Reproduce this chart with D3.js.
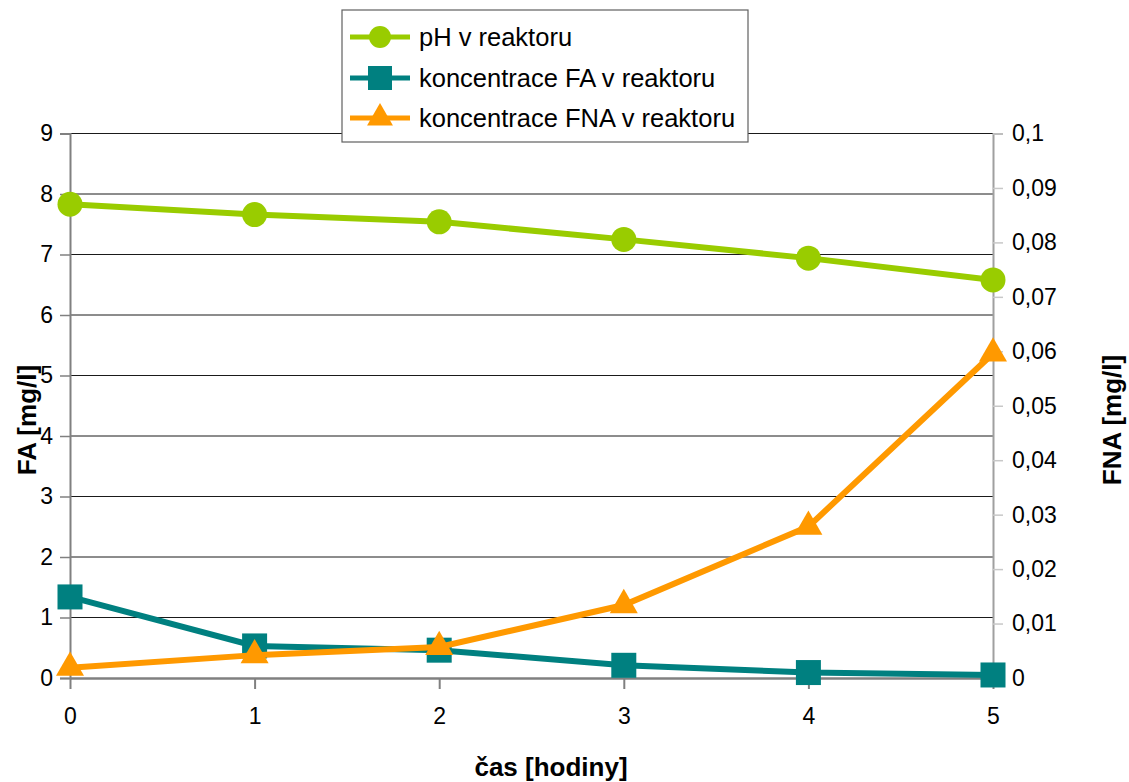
<!DOCTYPE html>
<html>
<head>
<meta charset="utf-8">
<script src="https://cdn.jsdelivr.net/npm/d3@7"></script>
<style>
  body { margin: 0; background: #fff; }
  svg text { font-family: "Liberation Sans", Arial, sans-serif; fill: #000; }
</style>
</head>
<body>
<svg id="chart" width="1129" height="782"></svg>
<script>
// Time in hours
const hours = [0, 1, 2, 3, 4, 5];
// pH in reactor (plotted against left axis)
const phValues = [7.83, 7.66, 7.54, 7.25, 6.94, 6.58];
// Free ammonia concentration, mg/l (left axis)
const faValues = [1.34, 0.53, 0.46, 0.21, 0.09, 0.05];
// Free nitrous acid concentration, mg/l (right axis)
const fnaValues = [0.0019, 0.0042, 0.0057, 0.0134, 0.0278, 0.0596];

const leftTicks = [0, 1, 2, 3, 4, 5, 6, 7, 8, 9];
const rightTicks = [0, 0.01, 0.02, 0.03, 0.04, 0.05, 0.06, 0.07, 0.08, 0.09, 0.1];

const seriesNames = ["pH v reaktoru", "koncentrace FA v reaktoru", "koncentrace FNA v reaktoru"];
const seriesColors = ["#99cc00", "#008080", "#ff9900"];

(function () {
const svg = d3.select("#chart");
const plotLeft = 70, plotRight = 993, plotTop = 133.5, plotBottom = 678;

const x = d3.scaleLinear().domain([0, 5]).range([plotLeft, plotRight]);
const yL = d3.scaleLinear().domain([0, 9]).range([plotBottom, plotTop]);
const yR = d3.scaleLinear().domain([0, 0.1]).range([plotBottom, plotTop]);

// horizontal gridlines
svg.append("g").selectAll("line").data(leftTicks.filter(d => d > 0)).join("line")
  .attr("x1", plotLeft).attr("x2", plotRight)
  .attr("y1", d => yL(d)).attr("y2", d => yL(d))
  .attr("stroke", "#1a1a1a").attr("stroke-width", 1);

// left axis
const gL = svg.append("g").attr("transform", `translate(${plotLeft},0)`)
  .call(d3.axisLeft(yL).tickValues(leftTicks).tickSize(10).tickPadding(7));
gL.select(".domain").attr("stroke", "#808080").attr("stroke-width", 2);
gL.selectAll(".tick line").attr("stroke", "#808080").attr("stroke-width", 1.5);
gL.selectAll(".tick text").style("font-size", "23px");

// right axis
const gR = svg.append("g").attr("transform", `translate(${plotRight},0)`)
  .call(d3.axisRight(yR).tickValues(rightTicks).tickSize(10).tickPadding(9)
    .tickFormat(d => d3.format("~g")(d).replace(".", ",")));
gR.select(".domain").attr("stroke", "#a0a0a0").attr("stroke-width", 2);
gR.selectAll(".tick line").attr("stroke", "#c8c8c8").attr("stroke-width", 1.5);
gR.selectAll(".tick text").style("font-size", "23px");

// bottom axis
const gB = svg.append("g").attr("transform", `translate(0,${plotBottom})`)
  .call(d3.axisBottom(x).tickValues(hours).tickSize(11).tickPadding(19).tickSizeOuter(0)
    .tickFormat(d3.format("d")));
gB.select(".domain").attr("stroke", "#808080").attr("stroke-width", 2.5);
gB.selectAll(".tick line").attr("stroke", "#808080").attr("stroke-width", 2);
gB.selectAll(".tick text").style("font-size", "23px");

// axis titles
svg.append("text").attr("transform", `translate(36,420) rotate(-90)`)
  .attr("text-anchor", "middle").style("font-size", "26px").style("font-weight", "bold")
  .text("FA [mg/l]");
svg.append("text").attr("transform", `translate(1121,420) rotate(-90)`)
  .attr("text-anchor", "middle").style("font-size", "26px").style("font-weight", "bold")
  .text("FNA [mg/l]");
svg.append("text").attr("x", 551).attr("y", 776)
  .attr("text-anchor", "middle").style("font-size", "26px").style("font-weight", "bold")
  .text("čas [hodiny]");

const lineL = d3.line().x((d, i) => x(hours[i])).y(d => yL(d));
const lineR = d3.line().x((d, i) => x(hours[i])).y(d => yR(d));

const triangle = d3.symbol().type(d3.symbolTriangle).size(340);

// FA series
svg.append("path").datum(faValues).attr("d", lineL)
  .attr("fill", "none").attr("stroke", seriesColors[1]).attr("stroke-width", 6);
svg.append("g").selectAll("rect").data(faValues).join("rect")
  .attr("x", (d, i) => x(hours[i]) - 12.5).attr("y", d => yL(d) - 12.5)
  .attr("width", 25).attr("height", 25).attr("fill", seriesColors[1]);

// FNA series
svg.append("path").datum(fnaValues).attr("d", lineR)
  .attr("fill", "none").attr("stroke", seriesColors[2]).attr("stroke-width", 6);
svg.append("g").selectAll("path").data(fnaValues).join("path")
  .attr("d", triangle)
  .attr("transform", (d, i) => `translate(${x(hours[i])},${yR(d)})`)
  .attr("fill", seriesColors[2]);

// pH series
svg.append("path").datum(phValues).attr("d", lineL)
  .attr("fill", "none").attr("stroke", seriesColors[0]).attr("stroke-width", 6);
svg.append("g").selectAll("circle").data(phValues).join("circle")
  .attr("cx", (d, i) => x(hours[i])).attr("cy", d => yL(d))
  .attr("r", 12.5).attr("fill", seriesColors[0]);

// legend
const lg = svg.append("g");
lg.append("rect").attr("x", 342).attr("y", 10).attr("width", 406).attr("height", 132)
  .attr("fill", "#fff").attr("stroke", "#606060").attr("stroke-width", 1.2);
const rowsY = [37, 78, 118];
seriesNames.forEach((name, i) => {
  const cy = rowsY[i];
  lg.append("line").attr("x1", 350).attr("x2", 410).attr("y1", cy).attr("y2", cy)
    .attr("stroke", seriesColors[i]).attr("stroke-width", 5);
  if (i === 0) {
    lg.append("circle").attr("cx", 380).attr("cy", cy).attr("r", 11).attr("fill", seriesColors[i]);
  } else if (i === 1) {
    lg.append("rect").attr("x", 368).attr("y", cy - 12).attr("width", 24).attr("height", 24).attr("fill", seriesColors[i]);
  } else {
    lg.append("path").attr("d", d3.symbol().type(d3.symbolTriangle).size(290)())
      .attr("transform", `translate(380,${cy})`).attr("fill", seriesColors[i]);
  }
  lg.append("text").attr("x", 419).attr("y", cy + 9).style("font-size", "25.5px")
    .text(name);
});
})();
</script>
</body>
</html>
